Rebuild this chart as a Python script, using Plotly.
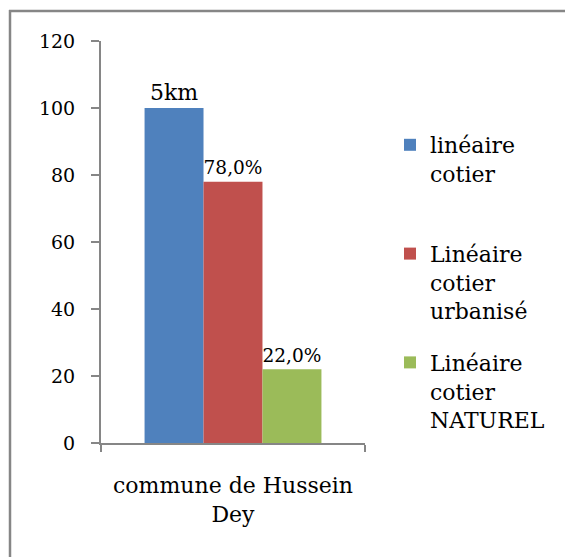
import plotly.graph_objects as go

category = ["commune de Hussein<br>Dey"]
series_names = ["linéaire<br>cotier<br>\u00a0", "Linéaire<br>cotier<br>urbanisé", "Linéaire<br>cotier<br>NATUREL"]
values = [100, 78, 22]
labels = ["5km", "78,0%", "22,0%"]
colors = ["#4F81BD", "#C0504D", "#9BBB59"]
y_ticks = [0, 20, 40, 60, 80, 100, 120]

FONT = "DejaVu Serif"

fig = go.Figure()
for i, (name, v, lab, c) in enumerate(zip(series_names, values, labels, colors)):
    fig.add_trace(go.Bar(
        x=category, y=[v], name=name, text=[lab],
        textposition="outside", cliponaxis=False,
        textfont=dict(family=FONT, size=22, color="black"),
        marker=dict(color=c, line=dict(width=0)),
        legendgroup=f"g{i}",
    ))

# body margin is removed by post_script below, so the figure sits at (0, 0)
OFF = 0
W, H = 565, 557
# screen-space layout targets
S_left, S_right, S_top, S_bottom = 101, 365, 41, 443
ml, mr = S_left - OFF, W - (S_right - OFF)
mt, mb = S_top - OFF, H - (S_bottom - OFF)
pw, ph = W - ml - mr, H - mt - mb

def px_x(x):
    return (x - OFF - ml) / pw

def px_y(y):
    return (H - mb - (y - OFF)) / ph

border = dict(color="#868686", width=2.5)
fig.update_layout(
    width=W, height=H,
    margin=dict(l=ml, r=mr, t=mt, b=mb, pad=0),
    paper_bgcolor="white", plot_bgcolor="white",
    barmode="group", bargap=0.33, bargroupgap=0,
    font=dict(family=FONT, color="black"),
    legend=dict(
        x=px_x(390), y=px_y(124), xanchor="left", yanchor="top",
        font=dict(family=FONT, size=22, color="black"),
        valign="top", tracegroupgap=20, traceorder="grouped",
        bgcolor="rgba(0,0,0,0)",
    ),
    xaxis=dict(
        showline=True, linecolor="#868686", linewidth=2,
        ticks="outside", tickson="boundaries", ticklen=7, tickcolor="#868686", tickwidth=2,
        ticklabelstandoff=22,
        tickfont=dict(family=FONT, size=22, color="black"),
        showgrid=False, zeroline=False, fixedrange=True,
    ),
    yaxis=dict(
        range=[0, 120], tickvals=y_ticks,
        showline=True, linecolor="#868686", linewidth=2,
        ticks="outside", ticklen=8, tickcolor="#868686", tickwidth=2,
        ticklabelstandoff=12,
        tickfont=dict(family=FONT, size=19, color="black"),
        showgrid=False, zeroline=False,
    ),
    shapes=[
        dict(type="line", xref="paper", yref="paper",
             x0=px_x(9), x1=px_x(600), y0=px_y(11), y1=px_y(11), line=border, layer="below"),
        dict(type="line", xref="paper", yref="paper",
             x0=px_x(10), x1=px_x(10), y0=px_y(10), y1=px_y(600), line=border, layer="below"),
    ],
)

fig.write_html(
    "out.html",
    config={"displayModeBar": False},
    post_script="document.body.style.margin='0';document.body.style.overflow='hidden';",
)
